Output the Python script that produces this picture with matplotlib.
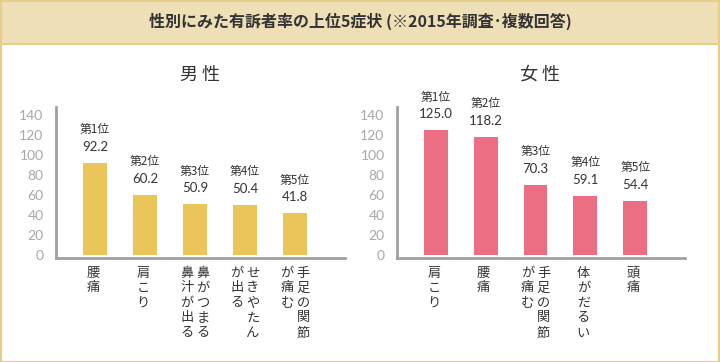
import matplotlib.pyplot as plt
from matplotlib.patches import Rectangle

plt.rcParams['font.family'] = ['Noto Sans CJK JP', 'DejaVu Sans']

title = "性別にみた有訴者率の上位5症状 (※2015年調査･複数回答)"

male_labels = [["腰痛"], ["肩こり"], ["鼻がつまる", "鼻汁が出る"], ["せきやたん", "が出る"], ["手足の関節", "が痛む"]]
male_values = [92.2, 60.2, 50.9, 50.4, 41.8]

female_labels = [["肩こり"], ["腰痛"], ["手足の関節", "が痛む"], ["体がだるい"], ["頭痛"]]
female_values = [125.0, 118.2, 70.3, 59.1, 54.4]

yticks = [0, 20, 40, 60, 80, 100, 120, 140]
ranks = ["第1位", "第2位", "第3位", "第4位", "第5位"]

W, H = 720, 362
fig = plt.figure(figsize=(W / 100, H / 100), dpi=100)
fig.patch.set_facecolor("white")

# header band
fig.patches.append(Rectangle((0, 1 - 43 / H), 1, 43 / H, transform=fig.transFigure,
                             facecolor="#eedfb6", edgecolor="none", zorder=0))
fig.lines.append(plt.Line2D([0, 1], [1 - 43.5 / H] * 2, transform=fig.transFigure,
                            color="#e5cd8c", lw=1.5))
fig.patches.append(Rectangle((0.5 / W, 0.5 / H), 1 - 1.5 / W, 1 - 1.5 / H, transform=fig.transFigure,
                             facecolor="none", edgecolor="#e5cd8c", lw=1.5, zorder=5))
fig.text(0.5, 1 - 21 / H, title, ha="center", va="center", fontsize=11.5,
         fontweight="bold", color="#333333")


def panel(left_px, right_px, values, labels, color, name, name_x):
    ax = fig.add_axes([left_px / W, (H - 258) / H, (right_px - left_px) / W, 151 / H])
    x = range(len(values))
    ax.bar(x, values, width=0.48, color=color, zorder=2)
    ax.set_ylim(-3, 148)
    ax.set_xlim(-0.78, 5.0)
    for s in ["top", "right"]:
        ax.spines[s].set_visible(False)
    for s in ["left", "bottom"]:
        ax.spines[s].set_color("#a0a0a0")
        ax.spines[s].set_linewidth(2)
    ax.set_yticks(yticks)
    ax.set_yticklabels([str(t) for t in yticks], family="Lato",
                       fontsize=10, color="#a8a8a8")
    ax.tick_params(axis="y", length=0, pad=9)
    ax.set_xticks([])
    ax.set_facecolor("none")

    for i, v in enumerate(values):
        ax.annotate(ranks[i], xy=(i, v), xytext=(0, 33), textcoords="offset pixels",
                    ha="center", va="center", fontsize=8.5, color="#333333")
        ax.annotate(f"{v:.1f}", xy=(i, v), xytext=(0, 16), textcoords="offset pixels",
                    ha="center", va="center", fontsize=9.5, color="#333333", family="Lato")
        cols = labels[i]
        n = len(cols)
        for j, col in enumerate(cols):
            # vertical writing: first column on the right
            dx = (n - 1) * 8 - j * 16 - (2 if n == 1 else 0)
            for k, ch in enumerate(col):
                ax.annotate(ch, xy=(i, 0), xycoords=("data", "axes fraction"),
                            xytext=(dx, -15 - 15 * k), textcoords="offset pixels",
                            ha="center", va="center", fontsize=9.5, color="#333333")

    fig.text(name_x / W, 1 - 75 / H, name, ha="center", va="center", fontsize=13,
             color="#333333")
    return ax


panel(56, 345, male_values, male_labels, "#eac55a", "男 性", 200)
panel(397, 685, female_values, female_labels, "#eb6e82", "女 性", 540)

fig.savefig("out.png", dpi=100)
